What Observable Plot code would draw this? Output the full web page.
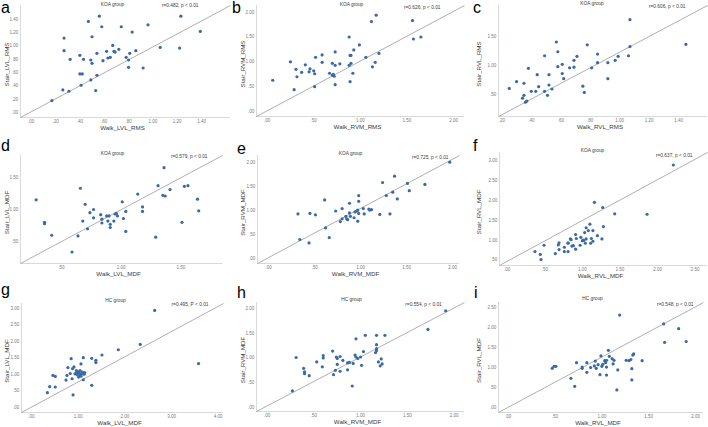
<!DOCTYPE html>
<html>
<head>
<meta charset="utf-8">
<script src="https://cdn.jsdelivr.net/npm/d3@7"></script>
<script src="https://cdn.jsdelivr.net/npm/@observablehq/plot@0.6"></script>
<style>
  body { margin: 0; background: #fff; }
  #fig { position: relative; width: 708px; height: 427px; overflow: hidden; background: #fff;
         font-family: "Liberation Sans", Arial, sans-serif; }
  .cell { position: absolute; }
  .tag { position: absolute; font-size: 16px; line-height: 16px; color: #000; }
</style>
</head>
<body>
<div id="fig"></div>
<script>
// KOA group, RMS (a-c)
const lvlRmsWalk  = [0.56,0.47,0.58,0.74,0.96,1.23,1.39,0.83,0.50,0.27,0.67,0.27,0.72,0.62,0.68,0.69,0.54,0.81,0.86,0.40,0.65,0.63,0.78,0.32,0.43,0.49,0.80,0.59,0.50,1.06,1.22,0.80,0.92,0.40,0.42,0.54,0.49,0.41,0.26,0.31,0.53,0.17];
const lvlRmsStair = [1.45,1.37,1.29,1.29,1.32,1.45,1.22,1.21,1.14,1.12,1.01,0.93,0.95,0.92,0.92,0.91,0.89,0.89,0.93,0.86,0.83,0.82,0.83,0.80,0.80,0.79,0.79,0.78,0.74,0.98,0.97,0.68,0.67,0.58,0.58,0.56,0.49,0.41,0.34,0.32,0.33,0.18];
const rvmRmsWalk  = [1.17,1.12,1.56,0.88,1.57,1.65,0.99,0.93,0.73,0.59,0.89,0.90,0.52,1.06,1.20,0.25,0.59,0.70,0.73,0.78,0.41,0.90,0.88,1.16,1.13,0.31,0.46,0.50,0.45,0.37,0.51,0.67,0.71,0.70,0.72,0.92,0.32,0.06,0.89,0.51,0.73,0.29];
const rvmRmsStair = [1.94,1.81,1.83,1.50,1.46,1.50,1.34,1.24,1.20,1.14,1.13,1.13,1.09,1.09,1.17,1.00,0.99,0.97,0.93,0.96,0.94,0.97,0.93,0.99,0.90,0.85,0.86,0.82,0.80,0.79,0.76,0.77,0.75,0.73,0.71,0.77,0.70,0.63,0.60,0.50,0.54,0.44];
const rvlRmsWalk  = [1.07,0.57,0.58,0.78,0.49,0.71,0.69,0.85,1.07,1.06,0.85,0.61,0.58,0.66,0.69,0.99,0.97,0.92,1.45,0.38,0.81,0.61,0.44,0.52,0.62,0.30,0.35,0.92,0.25,0.52,0.45,0.75,0.40,0.43,0.49,0.54,0.76,0.34,0.35,0.51,0.36,0.37];
const rvlRmsStair = [1.80,1.41,1.24,1.36,1.17,1.16,1.09,1.20,1.33,1.17,1.05,1.02,0.98,0.96,0.97,1.16,1.09,1.05,1.37,0.95,0.96,0.86,0.84,0.84,0.77,0.72,0.69,0.77,0.60,0.66,0.63,0.64,0.55,0.55,0.55,0.59,0.53,0.43,0.48,0.48,0.36,0.38];

// KOA group, MDF (d-f)
const lvlMdfWalk  = [1.36,0.66,1.31,1.14,1.35,1.37,1.41,1.53,1.56,1.64,1.65,0.29,1.01,0.70,0.77,0.74,1.18,1.18,1.04,0.83,0.88,0.90,0.95,0.96,0.97,0.77,0.84,1.02,0.68,0.84,0.89,0.91,0.94,0.36,0.36,1.51,0.91,0.72,1.04,0.42,0.64,1.29,0.59];
const lvlMdfStair = [1.65,1.33,1.37,1.24,1.22,1.21,1.31,1.36,1.37,1.16,0.98,1.15,1.12,1.08,1.00,0.95,1.04,0.97,0.97,0.92,0.90,0.90,0.93,0.94,0.90,0.87,0.85,0.86,0.82,0.79,0.82,0.77,0.82,0.80,0.78,0.80,0.72,0.70,0.66,0.60,0.59,0.57,0.34];
const rvmMdfWalk  = [1.97,1.37,1.24,1.51,1.70,1.53,1.35,1.28,0.98,1.40,0.61,0.98,0.88,0.80,0.73,0.97,0.96,0.94,1.03,1.09,1.10,1.12,0.32,0.45,0.51,0.88,0.98,1.04,1.21,1.32,0.84,0.89,0.93,0.85,0.86,0.78,0.97,0.80,0.62,0.66,0.34,0.44];
const rvmMdfStair = [2.00,1.71,1.58,1.56,1.54,1.41,1.38,1.31,1.31,1.24,1.22,1.19,1.15,1.04,0.99,1.01,0.99,0.97,1.04,1.03,1.01,1.02,0.93,0.94,0.91,0.95,0.94,0.93,0.92,0.93,0.88,0.88,0.85,0.83,0.81,0.77,0.78,0.83,0.64,0.44,0.40,0.33];
const rvlMdfWalk  = [2.21,1.16,1.27,1.43,1.86,1.10,1.28,1.05,1.08,1.14,0.91,1.03,1.20,0.84,0.85,0.92,0.98,1.01,1.05,1.12,1.26,1.14,1.00,1.02,1.04,1.11,0.97,0.69,0.81,0.81,0.49,0.68,0.76,0.86,0.88,0.91,0.69,0.76,0.81,0.37,0.64,0.44,0.45];
const rvlMdfStair = [2.89,1.95,1.82,1.66,1.65,1.40,1.34,1.31,1.24,1.24,1.14,1.19,1.11,1.03,1.01,1.04,1.07,1.00,1.03,1.04,1.03,0.97,0.98,0.99,0.92,0.92,0.87,0.93,0.93,0.92,0.87,0.88,0.82,0.85,0.86,0.77,0.76,0.71,0.71,0.71,0.66,0.64,0.51];

// HC group, MDF (g-i)
const hcLvlMdfWalk  = [2.64,2.33,1.86,1.51,1.11,0.85,1.29,1.38,1.38,1.06,3.58,0.78,0.91,0.88,0.96,0.99,1.01,1.04,1.09,1.14,1.13,1.07,1.04,0.98,0.93,0.83,0.76,1.01,1.06,0.46,0.51,0.87,0.74,1.11,0.39,0.51,1.29,0.34,0.89,0.96,1.03];
const hcLvlMdfStair = [2.94,1.91,1.75,1.59,1.51,1.48,1.49,1.43,1.36,1.32,1.33,1.21,1.23,1.18,1.12,1.08,1.06,1.12,1.07,1.06,1.01,1.01,0.97,0.99,1.02,1.03,0.97,0.92,0.95,0.97,0.94,0.87,0.83,0.84,0.63,0.62,0.67,0.45,0.38,1.04,1.03];
const hcRvmMdfWalk  = [1.91,1.72,0.95,1.05,1.17,1.26,1.17,1.17,1.17,1.16,0.70,1.03,0.31,0.60,0.60,0.74,0.75,0.78,0.94,0.95,0.97,1.00,0.81,0.53,0.86,0.88,0.92,1.22,1.19,1.23,1.01,1.21,0.75,0.59,0.39,0.40,0.40,0.45,0.73,0.78,0.86,0.71,0.91,0.27];
const hcRvmMdfStair = [1.96,1.58,1.39,1.46,1.46,1.46,1.27,1.19,1.15,1.11,1.14,1.13,1.01,1.05,1.00,1.02,0.99,1.03,1.06,1.02,0.99,1.02,0.95,0.92,0.90,0.91,0.89,0.98,0.92,0.88,0.85,0.84,0.87,0.82,0.79,0.72,0.68,0.64,0.75,0.73,0.76,0.66,0.43,0.33];
const hcRvlMdfWalk  = [1.19,1.66,1.82,1.67,1.90,1.07,0.99,1.08,1.34,1.33,1.11,1.13,1.03,0.93,1.05,1.31,1.29,1.26,1.43,0.73,0.84,1.04,1.01,0.96,1.12,0.92,1.00,1.05,0.49,0.51,0.47,0.79,0.79,0.88,0.94,1.17,1.32,0.84,0.98,1.05,0.67,1.32,0.71,1.16];
const hcRvlMdfStair = [2.31,2.09,1.97,1.63,1.65,1.43,1.29,1.28,1.34,1.31,1.22,1.18,1.17,1.16,1.18,1.20,1.17,1.18,1.17,1.12,1.12,1.12,1.08,1.07,1.09,1.04,1.03,1.01,1.03,1.03,0.98,1.01,0.98,1.00,0.98,0.94,0.97,0.88,0.82,0.81,0.73,0.69,0.53,0.44];

// Panel letters, group titles, correlation notes and axis titles
const panelTags   = ["a","b","c","d","e","f","g","h","i"];
const groupTitles = ["KOA group","KOA group","KOA group","KOA group","KOA group","KOA group","HC group","HC group","HC group"];
const statNotes   = ["r=0.482, p < 0.01","r=0.626, p < 0.01","r=0.606, p < 0.01",
                     "r=0.579, p < 0.01","r=0.725, p < 0.01","r=0.637, p < 0.01",
                     "r=0.495, P < 0.01","r=0.554, p < 0.01","r=0.548, p < 0.01"];
const xTitles = ["Walk_LVL_RMS","Walk_RVM_RMS","Walk_RVL_RMS","Walk_LVL_MDF","Walk_RVM_MDF","Walk_RVL_MDF","Walk_LVL_MDF","Walk_RVM_MDF","Walk_RVL_MDF"];
const yTitles = ["Stair_LVL_RMS","Stair_RVM_RMS","Stair_RVL_RMS","Stair_LVL_MDF","Stair_RVM_MDF","Stair_RVL_MDF","Stair_LVL_MDF","Stair_RVM_MDF","Stair_RVL_MDF"];

// Tick values per panel
const xTicks = [
  [0,0.2,0.4,0.6,0.8,1.0,1.2,1.4], [0,0.5,1,1.5,2], [0.2,0.4,0.6,0.8,1.0,1.2,1.4],
  [0.5,1,1.5], [0,0.5,1,1.5,2], [0,0.5,1,1.5,2,2.5],
  [0,1,2,3,4], [0,0.5,1,1.5,2], [0,0.5,1,1.5,2]
];
const yTicks = [
  [0,0.2,0.4,0.6,0.8,1.0,1.2,1.4], [0,0.5,1,1.5,2], [0.5,1,1.5],
  [0.5,1,1.5], [0,0.5,1,1.5,2], [0.5,1,1.5,2,2.5,3],
  [0,0.5,1,1.5,2,2.5,3], [0,0.5,1,1.5,2], [0,0.5,1,1.5,2,2.5]
];

const series = [
  [lvlRmsWalk, lvlRmsStair], [rvmRmsWalk, rvmRmsStair], [rvlRmsWalk, rvlRmsStair],
  [lvlMdfWalk, lvlMdfStair], [rvmMdfWalk, rvmMdfStair], [rvlMdfWalk, rvlMdfStair],
  [hcLvlMdfWalk, hcLvlMdfStair], [hcRvmMdfWalk, hcRvmMdfStair], [hcRvlMdfWalk, hcRvlMdfStair]
];

// Layout: cell origin, margins [left,right,top,bottom], axis extents, text offsets
const layout = [
  {col:0,row:0,m:[20,6,5,25],  xd:[-0.088,1.638], yd:[-0.075,1.61], tdx:-13, tdy:-1,   sdx:-32, sdy:0,   tag:[1,0]},
  {col:1,row:0,m:[20,8,5,26],  xd:[-0.114,2.118], yd:[-0.10,2.134], tdx:-9,  tdy:-1,   sdx:-24, sdy:1.7, tag:[-4,0]},
  {col:2,row:0,m:[26,1,5,26],  xd:[0.177,1.597],  yd:[0.11,2.047],  tdx:-11, tdy:-1.7, sdx:-22, sdy:1,   tag:[1,0]},
  {col:0,row:1,m:[20,14,13,21],xd:[0.159,1.849],  yd:[0.161,1.839], tdx:-9,  tdy:-1.6, sdx:-15, sdy:1.4, tag:[1,-4]},
  {col:1,row:1,m:[21,13,13,21],xd:[-0.12,2.076],  yd:[-0.097,2.139],tdx:-8,  tdy:-1.6, sdx:-11, sdy:1.7, tag:[1,-1]},
  {col:2,row:1,m:[27,1,10,19], xd:[-0.102,2.664], yd:[0.36,3.205],  tdx:-11, tdy:-1.7, sdx:-15, sdy:3.3, tag:[1,-4]},
  {col:0,row:2,m:[21,13,19,15],xd:[-0.214,4.114], yd:[-0.152,3.151],tdx:-7,  tdy:-3.3, sdx:-15, sdy:1,   tag:[1,-2]},
  {col:1,row:2,m:[20,8,18,16], xd:[-0.114,2.111], yd:[-0.088,2.128],tdx:-9,  tdy:-2.7, sdx:-22.7,sdy:1.7,tag:[1,1]},
  {col:2,row:2,m:[26,5,18,15], xd:[-0.103,2.085], yd:[-0.125,2.625],tdx:-8.5,tdy:-3.7, sdx:-10, sdy:1.7, tag:[2,1]}
];

const FONT = '"Liberation Sans", Arial, sans-serif';
const fmt = v => { const s = d3.format(".2f")(v); return s.startsWith("0") ? s.slice(1) : s; };
const cellW = 236, rowTop = [0, 142, 284], rowH = [142, 142, 143];

const fig = document.getElementById("fig");

layout.forEach((L, k) => {
  const [walk, stair] = series[k];
  const pts = walk.map((w, i) => ({walk: w, stair: stair[i]}));
  const [mL, mR, mT, mB] = L.m;
  const h = rowH[L.row];
  // reference line across the plotting frame, corner to corner
  const diag = [{x1: L.xd[0], y1: L.yd[0], x2: L.xd[1], y2: L.yd[1]}];

  const chart = Plot.plot({
    width: cellW, height: h,
    marginLeft: mL, marginRight: mR, marginTop: mT, marginBottom: mB,
    style: {fontFamily: FONT, background: "transparent", overflow: "visible"},
    x: {domain: L.xd},
    y: {domain: L.yd},
    marks: [
      Plot.axisX({ticks: xTicks[k], tickFormat: fmt, tickSize: 0, tickPadding: 2.2, fontSize: 4.5, color: "#7a7a7a", label: null}),
      Plot.axisY({ticks: yTicks[k], tickFormat: fmt, tickSize: 0, tickPadding: 2.2, fontSize: 4.5, color: "#7a7a7a", label: null}),
      Plot.ruleX([L.xd[0]], {stroke: "#cfcfcf", strokeWidth: 0.8}),
      Plot.ruleY([L.yd[0]], {stroke: "#cfcfcf", strokeWidth: 0.8}),
      Plot.link(diag, {x1: "x1", y1: "y1", x2: "x2", y2: "y2", stroke: "#8c8c8c", strokeWidth: 0.7}),
      Plot.dot(pts, {x: "walk", y: "stair", r: 1.6, fill: "#3a6aa6", stroke: "none"}),
      Plot.text([groupTitles[k]], {frameAnchor: "top", textAnchor: "middle", lineAnchor: "middle", dx: L.tdx, dy: L.tdy, fontSize: 4.8, fill: "#3a3a3a"}),
      Plot.text([statNotes[k]], {frameAnchor: "top-right", textAnchor: "end", lineAnchor: "middle", dx: L.sdx, dy: L.sdy, fontSize: 4.8, fill: "#3a3a3a"}),
      Plot.text([xTitles[k]], {frameAnchor: "bottom", textAnchor: "middle", lineAnchor: "middle", dx: -3, dy: 11, fontSize: 6.2, fill: "#3a3a3a"}),
      Plot.text([yTitles[k]], {frameAnchor: "left", textAnchor: "middle", lineAnchor: "middle", rotate: -90, dx: 7 - mL, dy: 3, fontSize: 6.2, fill: "#3a3a3a"})
    ]
  });

  const cell = document.createElement("div");
  cell.className = "cell";
  cell.style.left = (L.col * cellW) + "px";
  cell.style.top = rowTop[L.row] + "px";
  cell.appendChild(chart);
  fig.appendChild(cell);

  const tag = document.createElement("div");
  tag.className = "tag";
  tag.textContent = panelTags[k];
  tag.style.left = (L.col * cellW + L.tag[0]) + "px";
  tag.style.top = (rowTop[L.row] + L.tag[1]) + "px";
  fig.appendChild(tag);
});
</script>
</body>
</html>
